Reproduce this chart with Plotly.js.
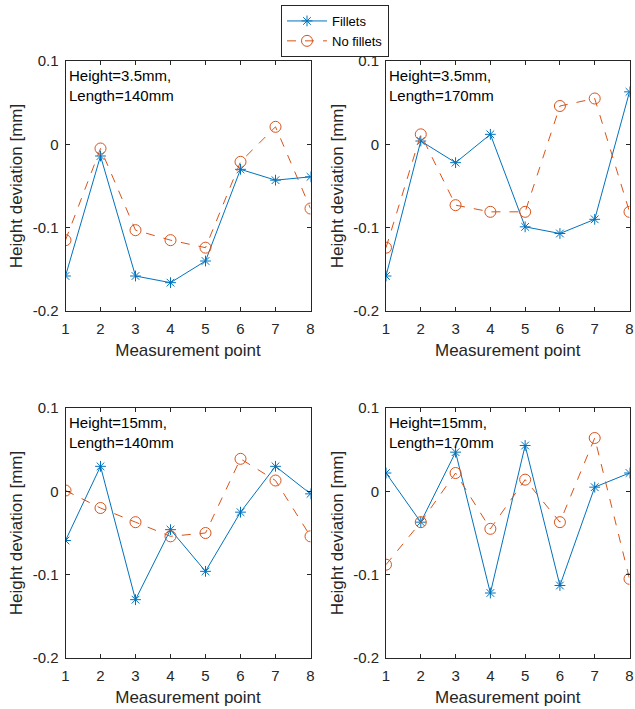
<!DOCTYPE html>
<html>
<head>
<meta charset="utf-8">
<script src="https://cdn.plot.ly/plotly-3.0.1.min.js"></script>
<style>html,body{margin:0;padding:0;background:#fff;}#chart{width:635px;height:709px;}</style>
</head>
<body>
<div id="chart"></div>
<script>
const points = [1, 2, 3, 4, 5, 6, 7, 8];
const seriesNames = ["Fillets", "No fillets"];
const panelLabels = ["Height=3.5mm,<br>Length=140mm", "Height=3.5mm,<br>Length=170mm", "Height=15mm,<br>Length=140mm", "Height=15mm,<br>Length=170mm"];
const yTickVals = [-0.2, -0.1, 0, 0.1];
const yTickText = ["-0.2", "-0.1", "0", "0.1"];
const xTickText = ["1", "2", "3", "4", "5", "6", "7", "8"];

const fillets_h35_l140 = [-0.158, -0.014, -0.158, -0.166, -0.140, -0.030, -0.043, -0.039];
const noFillets_h35_l140 = [-0.115, -0.005, -0.103, -0.115, -0.124, -0.021, 0.021, -0.077];
const fillets_h35_l170 = [-0.158, 0.004, -0.022, 0.012, -0.099, -0.107, -0.090, 0.063];
const noFillets_h35_l170 = [-0.124, 0.012, -0.073, -0.081, -0.081, 0.046, 0.055, -0.081];
const fillets_h15_l140 = [-0.059, 0.030, -0.130, -0.046, -0.096, -0.025, 0.030, -0.003];
const noFillets_h15_l140 = [0.001, -0.020, -0.037, -0.054, -0.050, 0.039, 0.013, -0.054];
const fillets_h15_l170 = [0.022, -0.037, 0.047, -0.122, 0.055, -0.113, 0.005, 0.022];
const noFillets_h15_l170 = [-0.088, -0.037, 0.022, -0.045, 0.014, -0.037, 0.064, -0.105];

const filletsData = [fillets_h35_l140, fillets_h35_l170, fillets_h15_l140, fillets_h15_l170];
const noFilletsData = [noFillets_h35_l140, noFillets_h35_l170, noFillets_h15_l140, noFillets_h15_l170];

const W = 635, H = 709;
const blue = "#0072BD", red = "#D95319", axc = "#262626";
const xDomPx = [[65.5, 310.5], [386, 629.5], [65.5, 310.5], [386, 629.5]];
const yDomPx = [[61, 311], [61, 311], [408, 658], [408, 658]];

const traces = [];
const layout = {
  width: W, height: H,
  margin: {l: 0, r: 0, t: 0, b: 0},
  paper_bgcolor: "#fff", plot_bgcolor: "#fff",
  font: {family: "Liberation Sans, Arial, sans-serif", color: axc, size: 15},
  showlegend: true,
  legend: {x: 281/W, y: 1 - 5/H, xanchor: "left", yanchor: "top",
    bordercolor: axc, borderwidth: 1, bgcolor: "#fff",
    font: {size: 13, color: "#000"}, tracegroupgap: 0, itemwidth: 40},
  annotations: []
};

for (let i = 0; i < 4; i++) {
  const n = i + 1;
  const xa = n === 1 ? "x" : "x" + n;
  const ya = n === 1 ? "y" : "y" + n;
  traces.push({
    x: points, y: filletsData[i], xaxis: xa, yaxis: ya,
    type: "scatter", mode: "lines+markers", name: seriesNames[0],
    legendgroup: "f", showlegend: i === 0,
    line: {color: blue, width: 1},
    marker: {symbol: "asterisk-open", size: 9, color: blue, line: {color: blue, width: 1}}
  });
  traces.push({
    x: points, y: noFilletsData[i], xaxis: xa, yaxis: ya,
    type: "scatter", mode: "lines+markers", name: seriesNames[1],
    legendgroup: "n", showlegend: i === 0,
    line: {color: red, width: 1, dash: "dash"},
    marker: {symbol: "circle-open", size: 11, color: red, line: {color: red, width: 1}}
  });
  const xk = n === 1 ? "xaxis" : "xaxis" + n;
  const yk = n === 1 ? "yaxis" : "yaxis" + n;
  layout[xk] = {
    domain: [xDomPx[i][0]/W, xDomPx[i][1]/W], anchor: ya,
    range: [1, 8], tickvals: points, ticktext: xTickText,
    ticks: "inside", ticklen: 4, tickcolor: axc, showline: true, linecolor: axc, linewidth: 1,
    mirror: "ticks", showgrid: false, zeroline: false, fixedrange: true,
    ticklabeloverflow: "allow", ticklabelstandoff: 4,
    tickfont: {size: 15, color: axc},
    title: {text: "Measurement point", font: {size: 17, color: axc}, standoff: 8}
  };
  layout[yk] = {
    domain: [1 - yDomPx[i][1]/H, 1 - yDomPx[i][0]/H], anchor: xa,
    range: [-0.2, 0.1], tickvals: yTickVals, ticktext: yTickText,
    ticks: "inside", ticklen: 4, tickcolor: axc, showline: true, linecolor: axc, linewidth: 1,
    mirror: "ticks", showgrid: false, zeroline: false, fixedrange: true,
    ticklabeloverflow: "allow", ticklabelstandoff: 3,
    tickfont: {size: 15, color: axc},
    title: {text: "Height deviation [mm]", font: {size: 17, color: axc}, standoff: 5}
  };
  layout.annotations.push({
    xref: xa + " domain", yref: ya + " domain", x: 0.005, y: 0.985,
    xanchor: "left", yanchor: "top", align: "left", showarrow: false,
    text: panelLabels[i], font: {size: 15, color: "#000"}
  });
}

Plotly.newPlot("chart", traces, layout, {displayModeBar: false, staticPlot: true});
</script>
</body>
</html>
